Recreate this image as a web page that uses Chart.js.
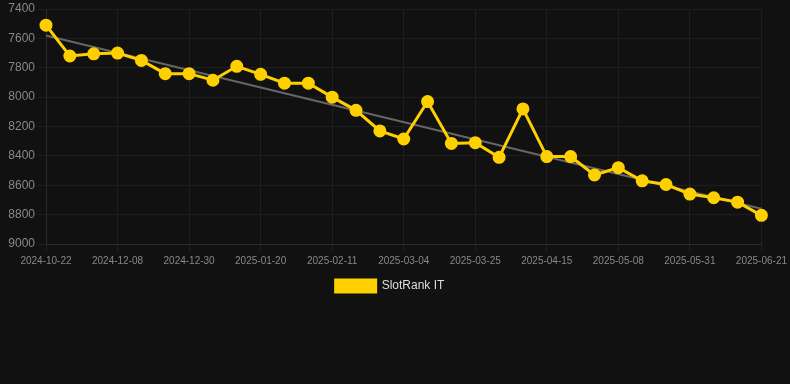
<!DOCTYPE html>
<html>
<head>
<meta charset="utf-8">
<script src="https://cdn.jsdelivr.net/npm/chart.js@4"></script>
<style>
    html, body { margin: 0; padding: 0; background: #111111; }
    .wrap { width: 790px; height: 302px; position: relative; }
</style>
</head>
<body>
<div class="wrap"><canvas id="rankChart"></canvas></div>
<script>
// dates on the x axis
const dates = [
    '2024-10-22', '2024-11-10', '2024-11-24', '2024-12-08', '2024-12-15', '2024-12-22',
    '2024-12-30', '2025-01-06', '2025-01-13', '2025-01-20', '2025-01-27', '2025-02-03',
    '2025-02-11', '2025-02-18', '2025-02-25', '2025-03-04', '2025-03-11', '2025-03-18',
    '2025-03-25', '2025-04-01', '2025-04-08', '2025-04-15', '2025-04-22', '2025-04-30',
    '2025-05-08', '2025-05-15', '2025-05-22', '2025-05-31', '2025-06-07', '2025-06-14',
    '2025-06-21'
];

// rank values
const rankValues = [
    7510, 7720, 7705, 7700, 7750, 7840, 7840, 7885, 7790, 7845,
    7905, 7905, 8000, 8090, 8230, 8285, 8030, 8315, 8310, 8410,
    8080, 8405, 8405, 8530, 8480, 8570, 8595, 8660, 8685, 8715,
    8805
];

// trend line, first and last point
const trendEnds = [7580, 8760];

const yTicks = { min: 7400, max: 9000, step: 200 };

const trendData = dates.map((d, i) => {
    if (i === 0) return trendEnds[0];
    if (i === dates.length - 1) return trendEnds[1];
    return null;
});

const ctx = document.getElementById('rankChart').getContext('2d');
new Chart(ctx, {
    type: 'line',
    data: {
        labels: dates,
        datasets: [{
            label: 'SlotRank IT',
            data: rankValues,
            borderColor: '#ffd000',
            backgroundColor: '#ffd000',
            borderWidth: 3,
            pointRadius: 5,
            pointHoverRadius: 6,
            tension: 0,
            order: 1
        }, {
            label: 'trend',
            data: trendData,
            borderColor: '#666666',
            borderWidth: 2,
            pointRadius: 0,
            spanGaps: true,
            order: 2
        }]
    },
    options: {
        responsive: true,
        maintainAspectRatio: false,
        animation: false,
        layout: {
            padding: { top: 5, right: 10 }
        },
        plugins: {
            legend: {
                position: 'bottom',
                labels: {
                    color: '#dddddd',
                    font: { size: 12 },
                    filter: item => item.text !== 'trend'
                }
            },
            tooltip: { enabled: false }
        },
        scales: {
            x: {
                grid: { color: '#1e1e1e' },
                border: { color: '#2a2a2a' },
                ticks: {
                    color: '#888888',
                    font: { size: 10 },
                    maxRotation: 0,
                    autoSkip: true,
                    maxTicksLimit: 11
                }
            },
            y: {
                reverse: true,
                min: yTicks.min,
                max: yTicks.max,
                grid: { color: '#1e1e1e' },
                border: { color: '#2a2a2a' },
                afterFit: scale => {
                    scale.width = 46;
                    scale.paddingTop = 0;
                },
                ticks: {
                    color: '#888888',
                    font: { size: 12 },
                    stepSize: yTicks.step,
                    callback: v => String(v)
                }
            }
        }
    }
});
</script>
</body>
</html>
